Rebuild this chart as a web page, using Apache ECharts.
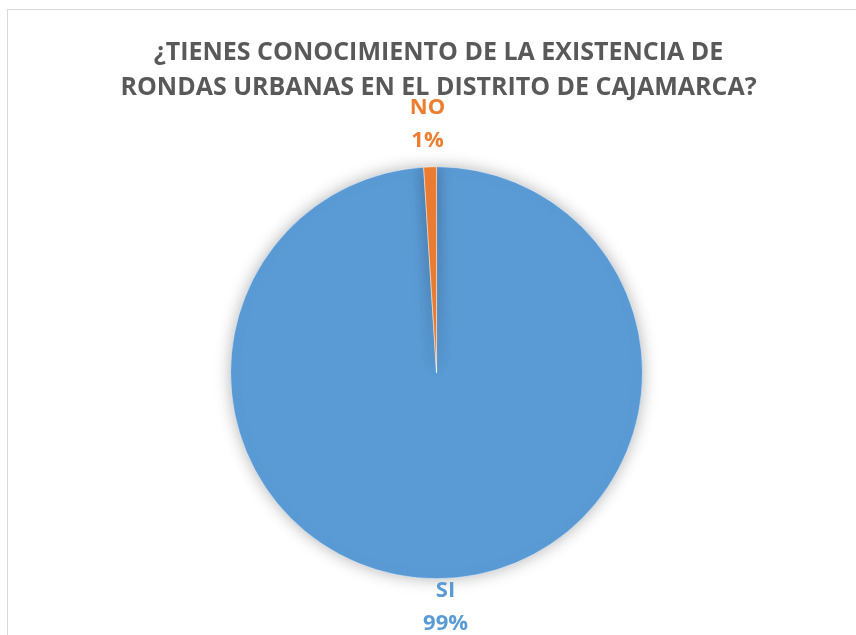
<!DOCTYPE html>
<html>
<head>
<meta charset="utf-8">
<script src="https://cdn.jsdelivr.net/npm/echarts@6/dist/echarts.min.js"></script>
<style>
html,body{margin:0;padding:0;background:#fff;}
#frame{position:absolute;left:7px;top:9px;width:860px;height:640px;border:1px solid #d9d9d9;box-sizing:border-box;}
#chart{position:absolute;left:0;top:0;width:856px;height:635px;}
</style>
</head>
<body>
<div id="frame"></div>
<div id="chart"></div>
<script>
const titleText = '¿TIENES CONOCIMIENTO DE LA EXISTENCIA DE\nRONDAS URBANAS EN EL DISTRITO DE CAJAMARCA?';
const categories = ['SI', 'NO'];
const values = [99, 1];
const colors = ['#5B9BD5', '#ED7D31'];

const FONT = '"Open Sans", sans-serif';
const chart = echarts.init(document.getElementById('chart'), null, {renderer: 'canvas'});
const centerXPct = 0.51;
const centerYPct = 0.587;
const option = {
  backgroundColor: 'transparent',
  title: {
    text: titleText,
    left: '50.65%',
    textAlign: 'center',
    top: 30,
    textStyle: {
      fontFamily: FONT,
      fontWeight: 'bold',
      fontSize: 25,
      lineHeight: 35,
      color: '#595959'
    }
  },
  series: [{
    type: 'pie',
    center: ['51%', '58.7%'],
    radius: 206,
    startAngle: 90,
    clockwise: true,
    avoidLabelOverlap: false,
    data: categories.map((c, i) => ({
      name: c,
      value: values[i],
      itemStyle: {color: colors[i]},
      label: {color: colors[i]}
    })),
    itemStyle: {
      borderColor: '#ffffff',
      borderWidth: 0.5,
      shadowBlur: 16,
      shadowColor: 'rgba(0,0,0,0.3)'
    },
    label: {
      show: true,
      position: 'outside',
      formatter: '{b}\n{d}%',
      fontFamily: FONT,
      fontWeight: 'bold',
      fontSize: 22,
      lineHeight: 33
    },
    labelLine: {show: false, length: 10, length2: 0},
    labelLayout: function (p) {
      const cx = chart.getWidth() * centerXPct;
      const cy = chart.getHeight() * centerYPct;
      const ly = p.labelRect.y + p.labelRect.height / 2;
      const up = ly < cy;
      return {
        x: cx + (up ? -9 : 9),
        align: 'center',
        verticalAlign: up ? 'bottom' : 'top',
        dy: up ? 0 : -14
      };
    },
    emphasis: {disabled: true}
  }]
};
chart.setOption(option);
</script>
</body>
</html>
